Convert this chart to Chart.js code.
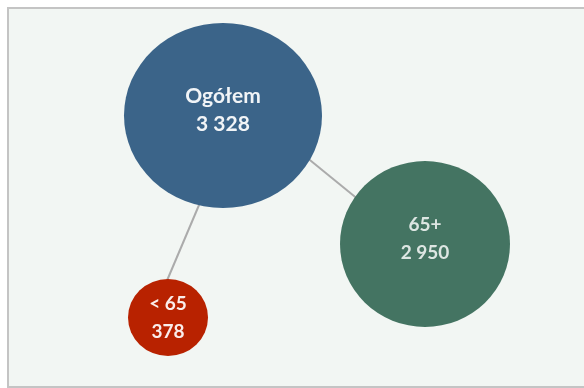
<!DOCTYPE html>
<html lang="pl">
<head>
  <meta charset="UTF-8">
  <title>Ogółem / 65+ / &lt; 65</title>
  <script src="https://cdn.jsdelivr.net/npm/chart.js"></script>
  <style>
    body {
      margin: 0;
      background: #ffffff;
    }
    #frame {
      position: absolute;
      left: 7px;
      top: 7px;
      width: 600px;
      height: 381px;
      box-sizing: border-box;
      background: #f2f6f3;
      border: 2px solid #c4c4c4;
    }
    #wrap {
      position: absolute;
      left: 0;
      top: 0;
      width: 584px;
      height: 388px;
    }
  </style>
</head>
<body>
  <div id="frame"></div>
  <div id="wrap"><canvas id="bubbles"></canvas></div>

  <script>
    // groups and their totals
    const categories = ['Ogółem', '65+', '< 65'];
    const values = [3328, 2950, 378];

    // bubble centres on the layout grid (x to the right, y downwards)
    const bubbleX = [223, 425, 168];
    const bubbleY = [115.5, 244, 317.5];

    // connector segments from the total to each subgroup
    const linkOld = [{ x: 300, y: 152 }, { x: 370, y: 209 }];
    const linkYoung = [{ x: 202, y: 198 }, { x: 163, y: 290 }];

    const fills = ['#3b6489', '#447462', '#b82200'];
    const radii = [99, 85, 40];
    const oval = [0.934, 0.976, 0.962];
    const textColors = ['rgba(255,255,255,0.93)', 'rgba(255,255,255,0.82)', 'rgba(255,255,255,0.92)'];
    const fontSizes = [21, 19, 19];
    const labelShift = [-5, -5, 0];

    function fmt(n) {
      return String(n).replace(/\B(?=(\d{3})+(?!\d))/g, ' ');
    }

    // bubble controller that draws each bubble slightly flattened
    class OvalBubbleController extends Chart.BubbleController {
      draw() {
        const ctx = this.chart.ctx;
        const area = this.chart.chartArea;
        this._cachedMeta.data.forEach((el, i) => {
          ctx.save();
          ctx.translate(el.x, el.y);
          ctx.scale(1, oval[i] || 1);
          ctx.translate(-el.x, -el.y);
          el.draw(ctx, area);
          ctx.restore();
        });
      }
    }
    OvalBubbleController.id = 'ovalBubble';
    OvalBubbleController.defaults = Chart.BubbleController.defaults;
    OvalBubbleController.overrides = Chart.BubbleController.overrides;
    Chart.register(OvalBubbleController);

    const bubbleLabels = {
      id: 'bubbleLabels',
      afterDatasetsDraw(chart) {
        const meta = chart.getDatasetMeta(0);
        const ctx = chart.ctx;
        ctx.save();
        ctx.textAlign = 'center';
        ctx.textBaseline = 'middle';
        meta.data.forEach((el, i) => {
          ctx.fillStyle = textColors[i];
          ctx.font = 'bold ' + fontSizes[i] + 'px Lato, "Open Sans", sans-serif';
          const y = el.y + labelShift[i];
          ctx.fillText(categories[i], el.x, y - 14);
          ctx.fillText(fmt(values[i]), el.x, y + 14);
        });
        ctx.restore();
      }
    };

    const linkStyle = {
      type: 'line',
      borderColor: '#ababab',
      borderWidth: 2,
      pointRadius: 0,
      fill: false,
      clip: false
    };

    new Chart(document.getElementById('bubbles'), {
      type: 'ovalBubble',
      data: {
        datasets: [
          {
            data: categories.map((c, i) => ({ x: bubbleX[i], y: bubbleY[i] })),
            backgroundColor: fills,
            borderWidth: 0,
            radius: radii,
            hoverRadius: 0,
            clip: false
          },
          Object.assign({ data: linkOld }, linkStyle),
          Object.assign({ data: linkYoung }, linkStyle)
        ]
      },
      options: {
        responsive: true,
        maintainAspectRatio: false,
        animation: false,
        events: [],
        layout: { padding: 0, autoPadding: false },
        scales: {
          x: { type: 'linear', display: false, min: 0, max: 584 },
          y: { type: 'linear', display: false, min: 0, max: 388, reverse: true }
        },
        plugins: {
          legend: { display: false },
          tooltip: { enabled: false }
        }
      },
      plugins: [bubbleLabels]
    });
  </script>
</body>
</html>
